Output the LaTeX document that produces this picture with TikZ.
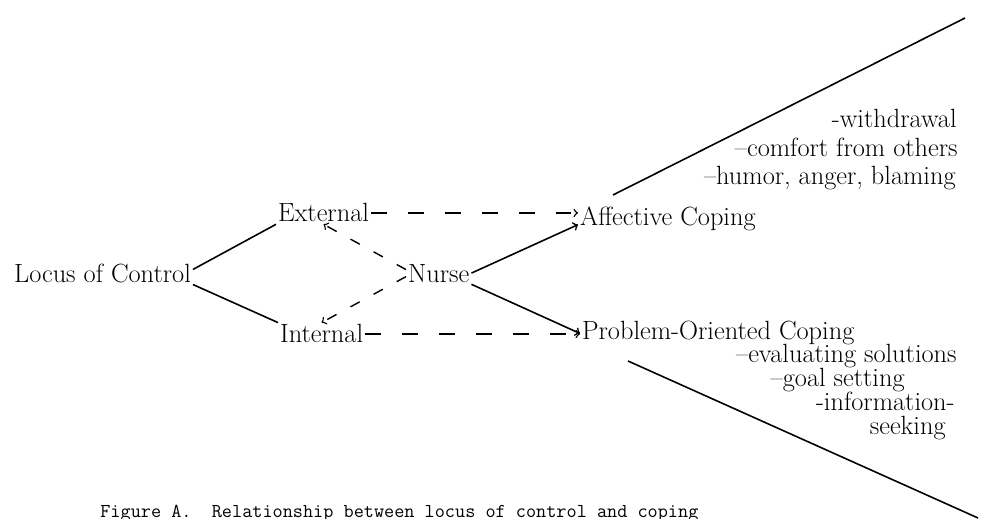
\documentclass[tikz,border=0pt]{standalone}
\begin{document}
\begin{tikzpicture}[x=0.2mm, y=-0.2mm, % one unit is one pixel of the page, y downwards
    lbl/.style={font=\fontsize{15}{18}\selectfont, inner sep=1pt},
    item/.style={lbl, inner sep=0pt, anchor=base east},
    link/.style={line width=0.9pt},
    dashlink/.style={line width=0.8pt, dash pattern=on 9pt off 12pt, ->},
    shortdash/.style={line width=0.8pt, dash pattern=on 6pt off 9pt, ->}]
    % Page size
    \useasboundingbox (0,0) rectangle (981,519);
    % Main labels
    \node[lbl, anchor=base west] (loc) at (12,282) {Locus of Control};
    \node[lbl, anchor=base west] (ext) at (276,222) {External};
    \node[lbl, anchor=base west] (int) at (278,343) {Internal};
    \node[lbl, anchor=base west] (nur) at (406,282) {Nurse};
    \node[lbl, anchor=base west] (aff) at (578,226) {Affective Coping};
    \node[lbl, anchor=base west] (prob) at (580,340) {Problem-Oriented Coping};
    % Kinds of affective coping
    \node[item] (wdr) at (957,128) {-withdrawal};
    \node[item] (cmf) at (958,157) {--comfort from others};
    \node[item] (hum) at (956,185) {--humor, anger, blaming};
    % Kinds of problem-oriented coping
    \node[item] (evl) at (957,362) {--evaluating solutions};
    \node[item] (gol) at (905,386) {--goal setting};
    \node[item] (inf) at (955,410) {-information-};
    \node[item] (skg) at (946,434) {seeking};
    % Caption
    \node[font=\ttfamily\fontsize{11.2}{13}\selectfont, anchor=base west, inner sep=0] (cap) at (100,517) {Figure A.\ \ Relationship between locus of control and coping};

    % Locus of control branches
    \draw[link] ([yshift=2pt]loc.east) -- (ext.south west);
    \draw[link] (loc.south east) -- (int.north west);
    % Nurse to the two kinds of coping
    \draw[link,->] (nur.east) -- ([yshift=-3pt]aff.west);
    \draw[link,->] (nur.south east) -- (prob.west);
    % Locus to coping
    \draw[dashlink] (ext.east) -- (ext.east -| aff.west);
    \draw[dashlink] (int.east) -- (int.east -| prob.west);
    % Nurse back to locus
    \draw[shortdash] ([yshift=2pt]nur.west) -- (ext.south);
    \draw[shortdash] ([yshift=-2pt]nur.west) -- (int.north);

    % Wedge lines
    \coordinate (affbase) at (613,195);
    \coordinate (afftip) at (965,18);
    \coordinate (probbase) at (628,361);
    \coordinate (probtip) at (978,518);
    \draw[link] (affbase) -- (afftip);
    \draw[link] (probbase) -- (probtip);
\end{tikzpicture}
\end{document}
